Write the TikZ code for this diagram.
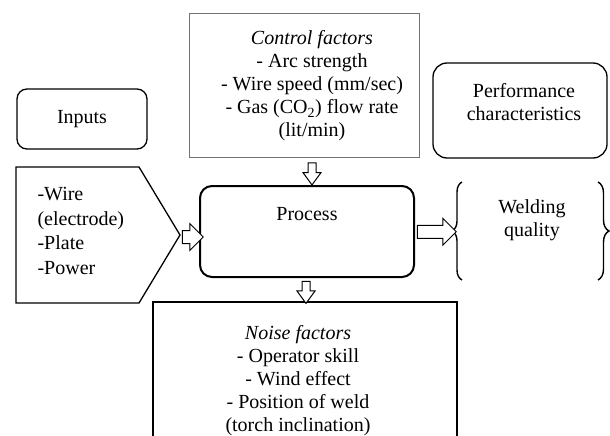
\documentclass[tikz,border=0pt]{standalone}
\usepackage{fontspec}
\setmainfont{Liberation Serif}
\usetikzlibrary{shapes.arrows,decorations.pathreplacing}

\begin{document}
\begin{tikzpicture}[x=1pt, y=-1pt,
    every node/.style={font=\fontsize{20}{23}\selectfont, align=center},
    roundbox/.style={draw, rounded corners=10pt, line width=1.3pt},
    plainbox/.style={draw, line width=1.5pt},
    varrow/.style={single arrow, draw, fill=white, line width=1pt, inner sep=0pt, inner ysep=3.5pt,
        minimum height=22pt, minimum width=17pt, single arrow head extend=5pt,
        single arrow tip angle=72, rotate=-90},
    harrow/.style={single arrow, draw, fill=white, line width=1pt, inner sep=0pt, inner ysep=6pt,
        minimum height=#1, minimum width=26pt, single arrow head extend=7pt,
        single arrow tip angle=90},
    brace/.style={decorate, decoration={brace, amplitude=#1}, line width=1.4pt}]

    \useasboundingbox (0,0) rectangle (610,436);
    \clip (0,0) rectangle (610,436);

    % Riquadri in alto
    \node[roundbox, minimum width=130pt, minimum height=60pt] (inputs) at (82,119) {Inputs};
    \node[draw=black!55, line width=0.8pt, minimum width=230pt, minimum height=144pt] (ctrl) at (304,85) {};
    \node (ctrltxt) at (312,86) {\textit{Control factors}\\- Arc strength\\- Wire speed (mm/sec)\\- Gas (CO\textsubscript{2}) flow rate\\(lit/min)};
    \node[roundbox, rounded corners=14pt, minimum width=174pt, minimum height=95pt] (perf) at (520,110.5) {};
    \node (perftxt) at (524,102) {Performance\\characteristics};

    % Livello centrale
    \draw[line width=1.3pt] (16,167) -- (139,167) -- (180,235) -- (139,303) -- (16,303) -- cycle;
    \coordinate (intip) at (180,237);
    \node[align=left, anchor=west, font=\fontsize{20}{24.5}\selectfont] (inlist) at (34,231) {-Wire\\(electrode)\\-Plate\\-Power};

    \node[draw, rounded corners=12pt, line width=2pt, minimum width=214pt, minimum height=91pt] (proc) at (307,231.5) {};
    \node (proctxt) at (307,214) {Process};

    \node (qual) at (532,220) {Welding\\quality};
    \draw[brace=10pt] (462,280) -- (462,182);
    \draw[brace=11pt] (598,182) -- (598,280);
    \coordinate (qtip) at (452,232);

    % Livello inferiore
    \node[plainbox, minimum width=304pt, minimum height=153pt] (noise) at (305,378.5) {};
    \node (noisetxt) at (298,381) {\textit{Noise factors}\\- Operator skill\\- Wind effect\\- Position of weld\\(torch inclination)};

    % Frecce
    \path (ctrl.south -| ctrltxt) -- (proc.north -| ctrltxt) node[midway, varrow] (a1) {};
    \path (proc.south) -- (noise.north) node[midway, varrow] (a2) {};
    \path (intip) -- (intip -| proc.west) node[midway, harrow=21pt] (a3) {};
    \path (proc.east) -- (qtip) node[midway, harrow=39pt] (a4) {};
\end{tikzpicture}
\end{document}
